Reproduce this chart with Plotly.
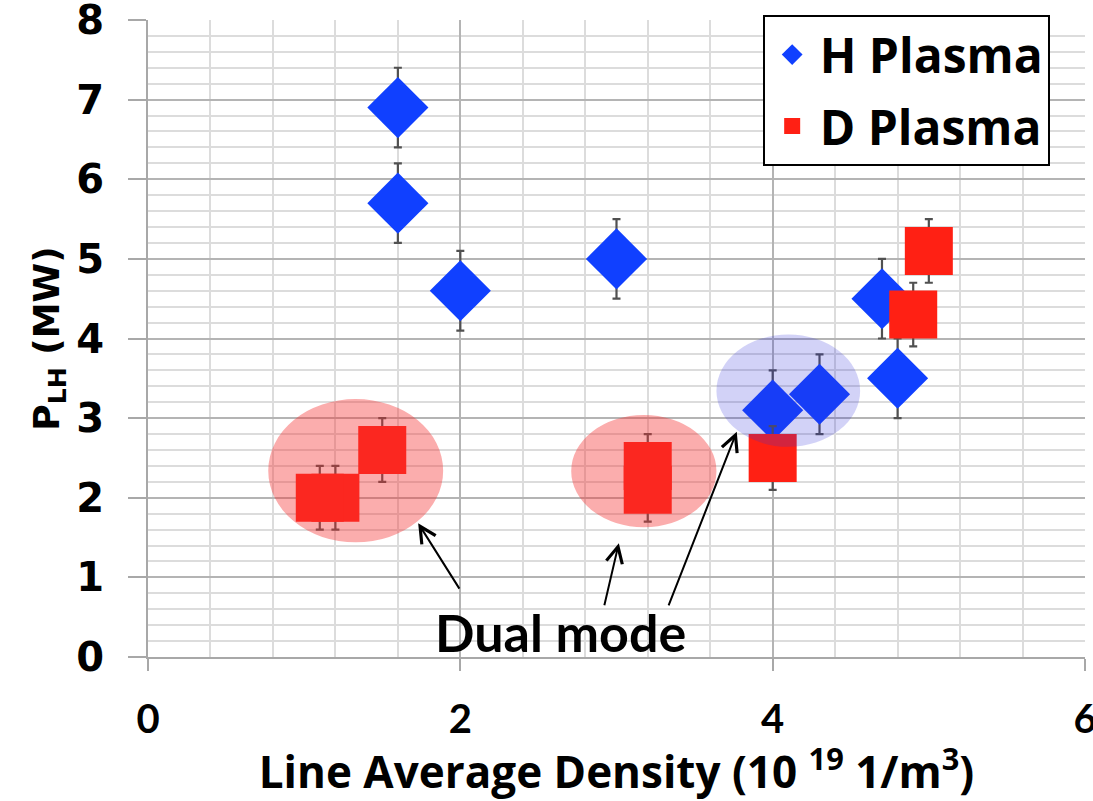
import plotly.graph_objects as go

# H plasma: L-H threshold power vs line-averaged density
h_density = [1.6, 1.6, 2.0, 3.0, 4.0, 4.3, 4.7, 4.8]
h_power = [6.9, 5.7, 4.6, 5.0, 3.1, 3.3, 4.5, 3.5]
h_err = [0.5, 0.5, 0.5, 0.5, 0.5, 0.5, 0.5, 0.5]

# D plasma
d_density = [1.2, 1.1, 1.5, 3.2, 3.2, 4.0, 4.9, 5.0]
d_power = [2.0, 2.0, 2.6, 2.1, 2.4, 2.5, 4.3, 5.1]
d_err = [0.4, 0.4, 0.4, 0.4, 0.4, 0.4, 0.4, 0.4]

# Dual-mode groupings (x0, x1, y0, y1) and their fill colours
dual_regions = [
    (0.77, 1.89, 1.44, 3.24, "rgba(245,50,50,0.40)"),
    (2.71, 3.64, 1.63, 3.04, "rgba(245,50,50,0.40)"),
    (3.64, 4.56, 2.64, 4.05, "rgba(50,50,220,0.22)"),
]
# arrows: (head x, head y, tail x, tail y)
dual_arrows = [
    (1.73, 1.68, 2.00, 0.84),
    (3.015, 1.43, 2.92, 0.63),
    (3.77, 2.83, 3.33, 0.63),
]
dual_label = "Dual mode"

fig = go.Figure()

fig.add_trace(go.Scatter(
    x=h_density, y=h_power, mode="markers", name="H Plasma",
    legendgroup="h",
    marker=dict(symbol="diamond", size=47, color="#1040ff",
                line=dict(width=0)),
    error_y=dict(type="data", array=h_err, visible=True,
                 color="#505050", thickness=2.2, width=4),
))
fig.add_trace(go.Scatter(
    x=d_density, y=d_power, mode="markers", name="D Plasma",
    legendgroup="d",
    marker=dict(symbol="square", size=48, color="#ff2014",
                line=dict(width=0)),
    error_y=dict(type="data", array=d_err, visible=True,
                 color="#505050", thickness=2.2, width=4),
))

for x0, x1, y0, y1, col in dual_regions:
    fig.add_shape(type="circle", xref="x", yref="y",
                  x0=x0, x1=x1, y0=y0, y1=y1,
                  fillcolor=col, line=dict(width=0), layer="above")

for hx, hy, tx, ty in dual_arrows:
    fig.add_annotation(x=hx, y=hy, ax=tx, ay=ty, xref="x", yref="y",
                       axref="x", ayref="y", text="", showarrow=True,
                       arrowhead=5, arrowsize=1.6, arrowwidth=2,
                       arrowcolor="black", standoff=0)

fig.add_annotation(x=2.64, y=0.31, xref="x", yref="y", text=dual_label,
                   showarrow=False,
                   font=dict(family="Lato", size=52, color="black",
                             weight="bold"))

fig.update_xaxes(
    range=[0, 6], dtick=2, tick0=0, automargin=False,
    showgrid=True, gridcolor="#b4b4b4", gridwidth=2,
    minor=dict(dtick=0.4, tick0=0, showgrid=True,
               gridcolor="#dcdcdc", gridwidth=2),
    showline=True, linecolor="#a8a8a8", linewidth=2,
    ticks="outside", ticklen=12, tickwidth=2, tickcolor="#a8a8a8",
    ticklabelstandoff=14, ticklabeloverflow="allow",
    tickfont=dict(family="Lato", size=40, color="black", weight="bold"),
    zeroline=False,
    title=dict(text="Line Average Density (10 <sup>19</sup> 1/m<sup>3</sup>)",
               font=dict(family="Open Sans", size=44, color="black",
                         weight="bold"),
               standoff=34),
)
fig.update_yaxes(
    range=[0, 8], dtick=1, tick0=0, automargin=False,
    showgrid=True, gridcolor="#b4b4b4", gridwidth=2,
    minor=dict(dtick=0.2, tick0=0, showgrid=True,
               gridcolor="#dcdcdc", gridwidth=2),
    showline=True, linecolor="#a8a8a8", linewidth=2,
    ticks="outside", ticklen=18, tickwidth=2, tickcolor="#a8a8a8",
    ticklabelstandoff=16, ticklabeloverflow="allow",
    tickfont=dict(family="DejaVu Sans", size=40, color="black",
                  weight="bold"),
    zeroline=False,
    title=dict(text="P<sub>LH</sub> (MW)",
               font=dict(family="DejaVu Sans", size=36, color="black",
                         weight="bold"),
               standoff=6),
)

fig.update_layout(
    width=1093, height=801,
    margin=dict(l=148, r=8, t=20, b=144),
    paper_bgcolor="white", plot_bgcolor="white",
    showlegend=True,
    legend=dict(
        x=0.656, y=1.008, xanchor="left", yanchor="top",
        bgcolor="white", bordercolor="black", borderwidth=2,
        font=dict(family="Open Sans", size=48, color="black", weight="bold"),
        traceorder="grouped", tracegroupgap=6, itemwidth=45,
    ),
)

fig.write_html("out.html")
